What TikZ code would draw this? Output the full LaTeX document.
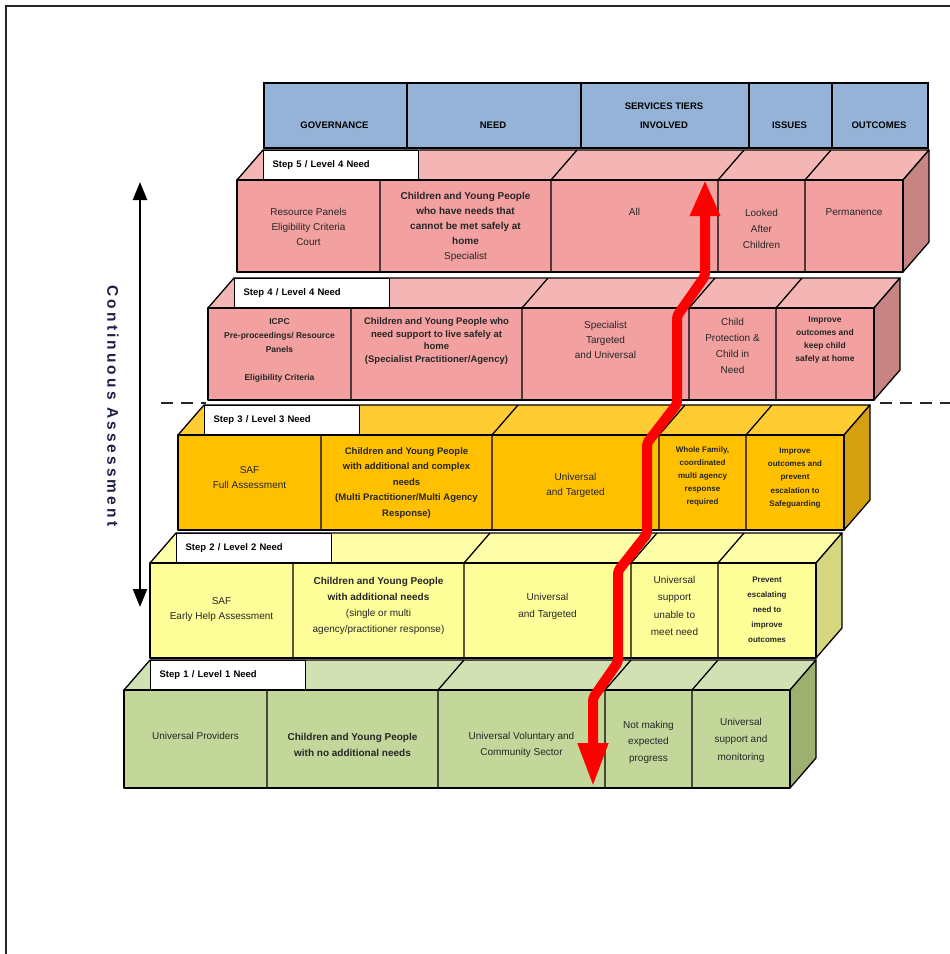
\documentclass[tikz,border=0pt]{standalone}
\usepackage{fontspec}
\setmainfont{Liberation Sans}
\newfontfamily\cafont[LetterSpace=20]{Liberation Sans}
\usetikzlibrary{arrows.meta}
\definecolor{hdrblue}{HTML}{95B3D7}
\definecolor{pkF}{HTML}{F2A0A0}
\definecolor{pkT}{HTML}{F4B5B5}
\definecolor{pkS}{HTML}{C88383}
\definecolor{orF}{HTML}{FFC000}
\definecolor{orT}{HTML}{FFCC33}
\definecolor{orS}{HTML}{D4A010}
\definecolor{ylF}{HTML}{FFFF99}
\definecolor{ylT}{HTML}{FFFFAA}
\definecolor{ylS}{HTML}{D6D680}
\definecolor{grF}{HTML}{C4D79B}
\definecolor{grT}{HTML}{D2E1B4}
\definecolor{grS}{HTML}{9DB070}
\definecolor{catext}{RGB}{30,34,70}
\newcommand\setfz[2]{\fontsize{#1}{#2}\selectfont}
% #1 left, #2 top, #3 height, #4 front, #5 top colour, #6 side colour, #7 label, #8 name
\newcommand\tierblock[8]{%
  \draw[tierline, fill=#5] (#1,#2) -- ++(26,-30) -- ++(666,0) -- ++(-26,30) -- cycle;
  \draw[tierline, fill=#6] ({#1+666},#2) -- ++(26,-30) -- ++(0,#3) -- ++(-26,30) -- cycle;
  \draw[tierline, fill=#4] (#1,#2) rectangle ++(666,#3);
  \foreach \o in {143,314,481,568}{
    \draw[tierline] ({#1+\o},{#2+#3}) -- ++(0,-#3) -- ++(26,-30);
  }
  \node[stepbox] (#8) at ({#1+26},{#2-30}) {#7};
}
\begin{document}
\begin{tikzpicture}[x=1pt,y=-1pt,
  tierline/.style={draw=black, line width=1.3pt, line join=round},
  hdrcell/.style={draw=black, line width=1.6pt, fill=hdrblue, anchor=north west, minimum height=65pt, inner sep=0pt},
  hdrtxt/.style={align=center, inner sep=0pt, font=\bfseries\setfz{9.5}{19}},
  stepbox/.style={draw=black, line width=1.3pt, fill=white, minimum height=29pt, text width=137pt, inner xsep=9pt, inner ysep=0pt, align=left, anchor=north west, font=\bfseries\setfz{9.5}{11}},
  cell/.style={align=center, inner sep=0pt, text=black!85},
  redpath/.style={draw=red, line width=10pt, rounded corners=3pt},
  blackarrow/.style={draw=black, line width=2.5pt},
  sepline/.style={draw=black!85, line width=2.5pt, dash pattern=on 12pt off 8pt}
]
\useasboundingbox (0,0) rectangle (950,954);
\fill[white] (0,0) rectangle (950,954);
% frame
\draw[line width=1.6pt, black!85] (6,954) -- (6,6) -- (950,6);

% threshold line
\coordinate (dlA) at (161,403);
\coordinate (dlB) at (206,403);
\coordinate (dlC) at (880,403);
\coordinate (dlD) at (950,403);
\draw[sepline] (dlA) -- (dlB);
\draw[sepline] (dlC) -- (dlD);

% header
\node[hdrcell, minimum width=143pt] (hGov) at (263,82) {};
\node[hdrcell, minimum width=174pt] (hNeed) at (406,82) {};
\node[hdrcell, minimum width=168pt] (hServ) at (580,82) {};
\node[hdrcell, minimum width=83pt] (hIss) at (748,82) {};
\node[hdrcell, minimum width=96pt] (hOut) at (831,82) {};
\node[hdrtxt] (tGov) at (334.5,125) {GOVERNANCE};
\node[hdrtxt] (tNeed) at (493,125) {NEED};
\node[hdrtxt] (tServ) at (664,115.5) {SERVICES TIERS\\INVOLVED};
\node[hdrtxt] (tIss) at (789.5,125) {ISSUES};
\node[hdrtxt] (tOut) at (879,125) {OUTCOMES};

% tiers
\tierblock{237}{180}{92}{pkF}{pkT}{pkS}{Step 5 / Level  4 Need}{s5}
\tierblock{208}{308}{92}{pkF}{pkT}{pkS}{Step 4 / Level 4 Need}{s4}
\tierblock{178}{435}{95}{orF}{orT}{orS}{Step 3 / Level 3 Need}{s3}
\tierblock{150}{563}{95}{ylF}{ylT}{ylS}{Step 2 / Level 2 Need}{s2}
\tierblock{124}{690}{98}{grF}{grT}{grS}{Step 1 / Level 1 Need}{s1}

% level 5 texts
\node[cell, font=\setfz{10}{15}] (r5c1) at (308.5,227) {Resource Panels\\Eligibility Criteria\\Court};
\node[cell, font=\setfz{10}{15}] (r5c2) at (465.5,227) {\textbf{Children and Young People}\\\textbf{who have needs that}\\\textbf{cannot be met safely at}\\\textbf{home}\\Specialist};
\node[cell, font=\setfz{10}{15}] (r5c3) at (634.5,212) {All};
\node[cell, font=\setfz{10}{16}] (r5c4) at (761.5,229) {Looked\\After\\Children};
\node[cell, font=\setfz{10}{15}] (r5c5) at (854,212) {Permanence};

% level 4 texts
\node[cell, font=\bfseries\setfz{8.5}{14}] (r4c1) at (279.5,350) {ICPC\\Pre-proceedings/ Resource\\Panels\\~\\Eligibility Criteria};
\node[cell, font=\bfseries\setfz{9.5}{12.5}] (r4c2) at (436.5,341) {Children and Young People who\\need support to live safely at\\home\\(Specialist Practitioner/Agency)};
\node[cell, font=\setfz{10}{15}] (r4c3) at (605.5,340) {Specialist\\Targeted\\and Universal};
\node[cell, font=\setfz{10}{16}] (r4c4) at (732.5,346) {Child\\Protection \&\\Child in\\Need};
\node[cell, font=\bfseries\setfz{8.5}{13.3}] (r4c5) at (825,340) {Improve\\outcomes and\\keep child\\safely at home};

% level 3 texts
\node[cell, font=\setfz{10}{15}] (r3c1) at (249.5,478) {SAF\\Full Assessment};
\node[cell, font=\bfseries\setfz{9.5}{15.5}] (r3c2) at (406.5,483) {Children and Young People\\with additional and complex\\needs\\(Multi Practitioner/Multi Agency\\Response)};
\node[cell, font=\setfz{10}{15}] (r3c3) at (575.5,485) {Universal\\and Targeted};
\node[cell, font=\bfseries\setfz{8}{13}] (r3c4) at (702.5,476) {Whole Family,\\coordinated\\multi agency\\response\\required};
\node[cell, font=\bfseries\setfz{8}{13.3}] (r3c5) at (795,478) {Improve\\outcomes and\\prevent\\escalation to\\Safeguarding};

% level 2 texts
\node[cell, font=\setfz{10}{15}] (r2c1) at (221.5,610) {SAF\\Early Help Assessment};
\node[cell, font=\setfz{10}{16}] (r2c2) at (378.5,606) {\textbf{Children and Young People}\\\textbf{with additional needs}\\(single or multi\\agency/practitioner response)};
\node[cell, font=\setfz{10}{17}] (r2c3) at (547.5,606) {Universal\\and Targeted};
\node[cell, font=\setfz{10}{17.5}] (r2c4) at (674.5,606) {Universal\\support\\unable to\\meet need};
\node[cell, font=\bfseries\setfz{8}{15}] (r2c5) at (767,610) {Prevent\\escalating\\need to\\improve\\outcomes};

% level 1 texts
\node[cell, font=\setfz{10}{16}] (r1c1) at (195.5,736) {Universal Providers};
\node[cell, font=\bfseries\setfz{10}{16}] (r1c2) at (352.5,745) {Children and Young People\\with no additional needs};
\node[cell, font=\setfz{10}{16}] (r1c3) at (521.5,745) {Universal Voluntary and\\Community Sector};
\node[cell, font=\setfz{10}{16.5}] (r1c4) at (648.5,742) {Not making\\expected\\progress};
\node[cell, font=\setfz{10}{17.5}] (r1c5) at (741,740) {Universal\\support and\\monitoring};

% continuous assessment
\coordinate (caT) at (140,182);
\coordinate (caB) at (140,607);
\draw[blackarrow, {Triangle[length=18pt,width=14pt]}-{Triangle[length=18pt,width=14pt]}] (caT) -- (caB);
\node[rotate=-90, text=catext, font=\cafont\bfseries\setfz{15.5}{16}, inner sep=0pt] (caText) at (113,406) {Continuous Assessment};

% red escalation path
\coordinate (rs) at (593,787);
\coordinate (re) at (705,180);
\draw[redpath, {Triangle[length=44pt,width=28pt]}-{Triangle[length=36pt,width=28pt]}]
  (rs) -- (593,698) -- (618,662) -- (618,571) -- (647,534) -- (647,443) -- (677,404) -- (677,316) -- (705,276) -- (re);
\end{tikzpicture}
\end{document}
